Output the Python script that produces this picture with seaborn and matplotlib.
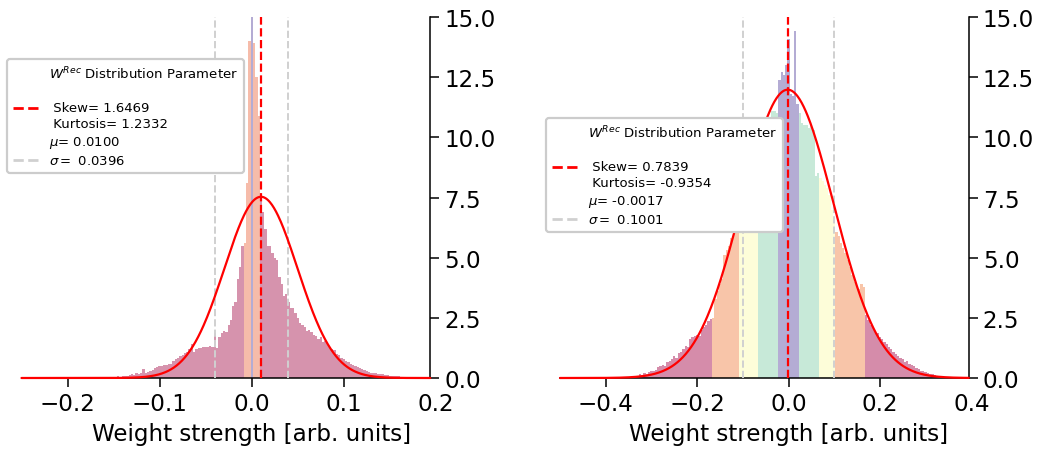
import numpy as np
import pandas as pd
import matplotlib
matplotlib.use("Agg")
import matplotlib.pyplot as plt
from matplotlib.lines import Line2D
import seaborn as sns

# ---------------- data ----------------
# Left panel histogram (bin centres start at -0.150, step 0.0025)
left_start = -0.150
left_step = 0.0025
left_heights = [
    0.05, 0.03, 0.08, 0.05, 0.10, 0.08, 0.10, 0.12, 0.15, 0.12,
    0.20, 0.18, 0.20, 0.38, 0.22, 0.25, 0.30, 0.35, 0.40, 0.45,
    0.50, 0.50, 0.55, 0.55, 0.60, 0.60, 0.70, 0.80, 0.85, 0.90,
    0.95, 1.05, 1.10, 1.20, 1.40, 1.10, 1.20, 1.25, 1.25, 1.30,
    1.30, 1.30, 1.35, 1.30, 1.85, 1.25, 1.70, 1.85, 1.95, 1.90,
    2.20, 2.40, 3.00, 3.15, 4.10, 4.60, 5.50, 5.60, 8.10, 14.0,
    40.0, 13.9, 12.5, 10.9, 7.60, 6.90, 6.20, 5.50, 5.50, 5.20,
    5.00, 4.90, 4.20, 3.90, 3.40, 3.50, 3.15, 2.90, 2.90, 2.70,
    2.50, 2.30, 2.20, 2.10, 1.95, 2.00, 1.90, 1.80, 1.75, 1.60,
    1.70, 1.50, 1.55, 1.40, 1.30, 1.20, 1.15, 1.00, 0.95, 0.85,
    0.80, 0.70, 0.65, 0.60, 0.55, 0.50, 0.45, 0.40, 0.38, 0.35,
    0.30, 0.25, 0.22, 0.20, 0.20, 0.18, 0.15, 0.15, 0.12, 0.12,
    0.10, 0.10, 0.08, 0.10, 0.08, 0.06, 0.05, 0.05, 0.06, 0.04,
    0.05, 0.03, 0.04, 0.03, 0.02, 0.03, 0.02,
]
# colour band limits on |w| (purple, orange, rest pink)
left_band_limits = [0.001, 0.0085]
left_band_names = ["core", "inner", "outer"]

# Right panel histogram (bin centres start at -0.370, step 0.005)
right_start = -0.370
right_step = 0.005
right_heights = [
    0.02, 0.03, 0.03, 0.05, 0.05, 0.06, 0.08, 0.10, 0.10, 0.15,
    0.12, 0.20, 0.18, 0.25, 0.30, 0.28, 0.35, 0.45, 0.50, 0.55,
    0.50, 0.65, 0.70, 0.80, 0.90, 0.85, 1.05, 1.10, 1.20, 1.35,
    1.30, 1.60, 1.70, 1.75, 1.80, 1.75, 2.00, 2.10, 2.20, 2.35,
    2.45, 2.50, 3.30, 3.60, 3.90, 4.10, 5.10, 5.30, 5.50, 5.80,
    6.10, 6.30, 6.60, 6.80, 6.90, 7.20, 7.50, 7.80, 8.10, 8.40,
    8.80, 9.10, 9.50, 9.80, 10.2, 10.5, 10.8, 11.1, 11.1, 11.0,
    12.4, 12.7, 12.6, 13.0, 14.1, 11.8, 11.7, 14.4, 11.4, 11.0,
    10.6, 10.5, 10.5, 10.4, 10.5, 10.3, 8.40, 8.50, 8.30, 8.20,
    8.00, 7.90, 7.60, 7.00, 6.50, 6.05, 5.90, 5.60, 5.40, 5.20,
    4.90, 4.60, 4.30, 4.00, 3.80, 3.70, 3.90, 3.80, 2.60, 2.40,
    2.20, 2.10, 1.90, 1.85, 1.70, 1.60, 1.50, 1.40, 1.30, 1.20,
    1.10, 1.00, 0.90, 0.85, 0.80, 0.65, 0.70, 0.60, 0.55, 0.50,
    0.40, 0.38, 0.30, 0.28, 0.25, 0.20, 0.18, 0.15, 0.12, 0.10,
    0.08, 0.06, 0.05, 0.03, 0.02,
]
right_band_limits = [0.0225, 0.07, 0.105, 0.167]
right_band_names = ["core", "mid", "pale", "inner", "outer"]

# Fit / legend parameters
left_params = dict(skew=1.6469, kurt=1.2332, mu=0.0100, sigma=0.0396, peak=7.53)
right_params = dict(skew=0.7839, kurt=-0.9354, mu=-0.0017, sigma=0.1001, peak=11.98)

x_ticks_left = [-0.2, -0.1, 0.0, 0.1, 0.2]
x_ticks_right = [-0.4, -0.2, 0.0, 0.2, 0.4]
y_ticks = [0.0, 2.5, 5.0, 7.5, 10.0, 12.5, 15.0]
xlabel = "Weight strength [arb. units]"

# ---------------- style ----------------
sns.set_theme(style="ticks")
plt.rcParams["font.family"] = ["DejaVu Sans"]
plt.rcParams["mathtext.fontset"] = "dejavusans"
for k in ("text.color", "axes.labelcolor", "xtick.color", "ytick.color"):
    plt.rcParams[k] = "black"

band_colors_left = {"core": "#b4acd4", "inner": "#f6bcaa", "outer": "#d693ad"}
band_colors_right = {"core": "#b4acd4", "mid": "#c7e9d8", "pale": "#fdfdd9",
                     "inner": "#f8c5a9", "outer": "#d58caa"}

W, H = 1041, 452
fig = plt.figure(figsize=(W / 100, H / 100), dpi=100)
ax_l = fig.add_axes([21.5 / W, 73 / H, 460.5 / W, 361 / H])
ax_r = fig.add_axes([560 / W, 73 / H, 457 / W, 361 / H])


def band_of(x, limits, names):
    for lim, name in zip(limits, names):
        if abs(x) < lim:
            return name
    return names[-1]


def draw(ax, start, step, heights, limits, names, colors, params, xlim, xticks,
         spine_x, legend_anchor):
    centers = start + step * np.arange(len(heights))
    df = pd.DataFrame({"w": centers, "h": heights})
    df["band"] = [band_of(c, limits, names) for c in centers]
    present = [n for n in names if n in set(df["band"])]
    sns.histplot(data=df, x="w", weights="h", binwidth=step,
                 binrange=(float(centers[0] - step / 2), float(centers[-1] + step / 2)),
                 hue="band", hue_order=present, palette=colors, multiple="layer",
                 alpha=1.0, linewidth=0, legend=False, ax=ax)

    # fitted gaussian
    xs = np.linspace(xlim[0], spine_x, 600)
    ys = params["peak"] * np.exp(-(xs - params["mu"]) ** 2 / (2 * params["sigma"] ** 2))
    ax.plot(xs, ys, color="red", lw=1.6, zorder=4, clip_on=False)

    ax.axvline(params["mu"], color="red", ls="--", lw=1.6, zorder=5)
    ax.axvline(-params["sigma"], color="#d0d0d0", ls="--", lw=1.4, zorder=3)
    ax.axvline(params["sigma"], color="#d0d0d0", ls="--", lw=1.4, zorder=3)

    ax.set_xlim(*xlim)
    ax.set_ylim(0, 15)
    ax.set_xticks(xticks)
    ax.set_yticks(y_ticks)
    ax.set_xticklabels([f"{t:.1f}".replace("-", "\u2212") for t in xticks])
    ax.set_yticklabels([f"{t:.1f}" for t in y_ticks])
    ax.set_xlabel(xlabel, fontsize=16.6, labelpad=5)
    ax.set_ylabel("")
    ax.yaxis.tick_right()
    ax.tick_params(axis="both", labelsize=16.6, length=6.5, width=1.1, color="black")
    ax.spines["top"].set_visible(False)
    ax.spines["left"].set_visible(False)
    ax.spines["right"].set_position(("data", spine_x))
    ax.spines["bottom"].set_bounds(xlim[0], spine_x)
    for s in ("right", "bottom"):
        ax.spines[s].set_linewidth(1.1)
        ax.spines[s].set_color("black")
    # last x tick sits beyond the y-spine: keep its label, drop its mark
    ax.xaxis.get_major_ticks()[-1].tick1line.set_visible(False)

    handles = [
        Line2D([], [], color="none"),
        Line2D([], [], color="red", ls="--", lw=2),
        Line2D([], [], color="none"),
        Line2D([], [], color="#d0d0d0", ls="--", lw=2),
    ]
    labels = [
        "$W^{Rec}$ Distribution Parameter",
        f"\n Skew= {params['skew']:.4f}\n Kurtosis= {params['kurt']:.4f}",
        f"$\\mu$= {params['mu']:.4f}",
        f"$\\sigma=$ {params['sigma']:.4f}",
    ]
    leg = ax.legend(handles, labels, loc="upper left",
                    bbox_to_anchor=legend_anchor, bbox_transform=fig.transFigure,
                    borderaxespad=0, fontsize=9.5, framealpha=1,
                    edgecolor="#cccccc", fancybox=True, labelspacing=0.32,
                    borderpad=0.42)
    leg.get_texts()[1].set_linespacing(1.28)
    leg.get_frame().set_linewidth(1.6)
    leg.set_zorder(10)


draw(ax_l, left_start, left_step, left_heights, left_band_limits, left_band_names,
     band_colors_left, left_params, (-0.25, 0.25), x_ticks_left, 0.1938,
     (7 / W, 1 - 60 / H))
draw(ax_r, right_start, right_step, right_heights, right_band_limits, right_band_names,
     band_colors_right, right_params, (-0.5, 0.5), x_ticks_right, 0.3947,
     (546 / W, 1 - 119 / H))

fig.savefig("out.png", dpi=100)
